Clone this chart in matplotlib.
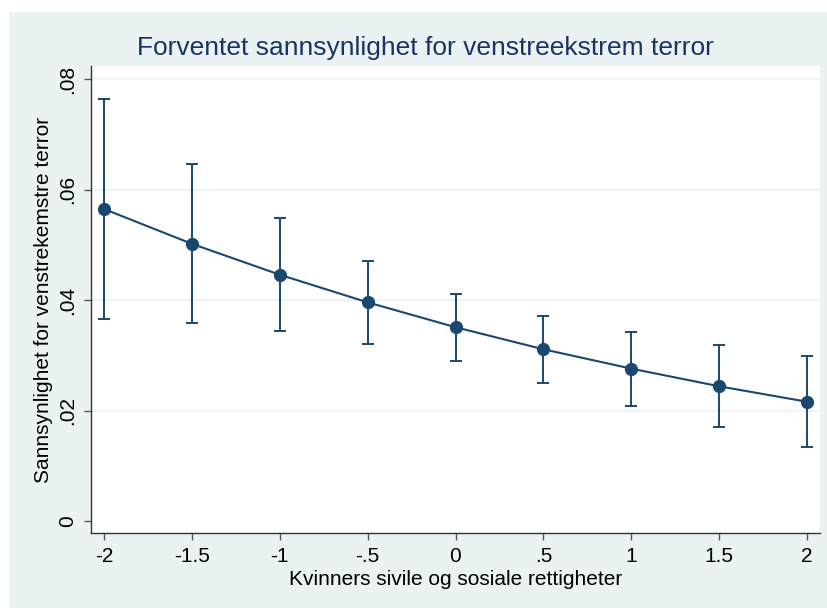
import matplotlib.pyplot as plt
from matplotlib.patches import Rectangle

# Predicted probability with confidence intervals
x_vals = [-2, -1.5, -1, -0.5, 0, 0.5, 1, 1.5, 2]
pred = [0.0565, 0.0502, 0.0446, 0.0396, 0.0351, 0.0311, 0.0276, 0.0244, 0.0216]
lower = [0.0366, 0.0358, 0.0344, 0.0321, 0.0290, 0.0250, 0.0208, 0.0170, 0.0134]
upper = [0.0764, 0.0647, 0.0548, 0.0470, 0.0412, 0.0372, 0.0343, 0.0319, 0.0298]

x_ticks = [-2, -1.5, -1, -0.5, 0, 0.5, 1, 1.5, 2]
x_ticklabels = ["-2", "-1.5", "-1", "-.5", "0", ".5", "1", "1.5", "2"]
y_ticks = [0, 0.02, 0.04, 0.06, 0.08]
y_ticklabels = ["0", ".02", ".04", ".06", ".08"]

navy = "#1A476F"
bg = "#EAF2F3"

plt.rcParams["font.family"] = ["Liberation Sans", "DejaVu Sans"]

fig = plt.figure(figsize=(8.28, 6.08), dpi=100)
fig.patch.set_facecolor("white")
fig.patches.append(Rectangle((9 / 828, 0), 1 - 9 / 828, 1 - 12 / 608,
                             transform=fig.transFigure, facecolor=bg,
                             edgecolor="none", zorder=-10))

ax = fig.add_axes([91 / 828, 75 / 608, 729 / 828, 467 / 608])
ax.set_facecolor("white")

yerr = [[p - lo for p, lo in zip(pred, lower)], [hi - p for p, hi in zip(pred, upper)]]
ax.errorbar(x_vals, pred, yerr=yerr, fmt="none", ecolor=navy, elinewidth=1.4,
            capsize=4, capthick=1.4, zorder=3)
ax.plot(x_vals, pred, color=navy, lw=1.5, marker="o", markersize=8.5, zorder=4)

ax.set_xlim(-2.074, 2.074)
ax.set_ylim(-0.00217, 0.0824)
ax.set_xticks(x_ticks)
ax.set_xticklabels(x_ticklabels)
ax.set_yticks(y_ticks)
ax.set_yticklabels(y_ticklabels, rotation=90, va="center")

ax.yaxis.grid(True, color=bg, lw=1.3)
ax.get_ygridlines()[0].set_visible(False)
ax.set_axisbelow(True)

for side in ["top", "right"]:
    ax.spines[side].set_visible(False)
for side in ["left", "bottom"]:
    ax.spines[side].set_color("#333333")
    ax.spines[side].set_linewidth(1.0)
ax.tick_params(axis="x", direction="out", length=5, width=1.0, color="#555555",
               labelsize=15, labelcolor="black", pad=5)
ax.tick_params(axis="y", direction="out", length=5, width=1.0, color="#555555",
               labelsize=15, labelcolor="black", pad=5)

ax.set_xlabel("Kvinners sivile og sosiale rettigheter", fontsize=15, labelpad=3)
ax.set_ylabel("Sannsynlighet for venstrekemstre terror", fontsize=15, labelpad=4)

fig.text(425.5 / 828, 1 - 48 / 608, "Forventet sannsynlighet for venstreekstrem terror",
         ha="center", va="center", fontsize=19, color="#1C3461")

fig.savefig("out.png", dpi=100)
